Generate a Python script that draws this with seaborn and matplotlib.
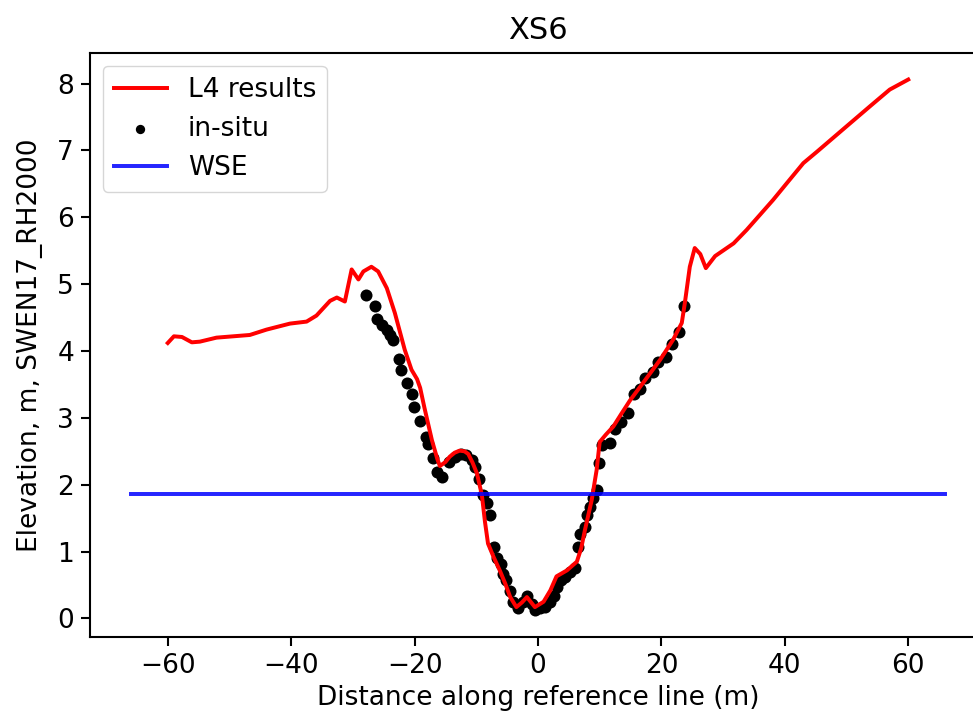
"""
Cross-section XS6: modelled L4 elevation profile vs in-situ survey and WSE.
"""

import matplotlib
matplotlib.use("Agg")
import matplotlib.pyplot as plt
import seaborn as sns

# --- data ---
l4_dist = [-60.0, -59.0, -57.7, -56.1, -54.8, -52.1, -49.4, -46.7, -44.0, -40.2,
           -37.5, -35.9, -33.7, -32.6, -31.3, -30.2, -29.1, -28.3, -27.0, -25.9,
           -24.5, -23.2, -21.6, -20.5, -19.6, -19.1, -18.4, -17.2, -16.3, -15.9,
           -15.0, -14.3, -13.5, -12.7, -11.9, -11.3, -10.6, -9.9, -9.1, -8.6,
           -8.1, -7.2, -6.2, -5.3, -4.5, -3.5, -2.6, -1.8, -0.5, 0.9,
           2.0, 3.0, 4.7, 6.3, 7.0, 7.6, 8.7, 9.5, 10.0, 11.0,
           12.2, 13.5, 14.9, 17.4, 19.8, 21.9, 23.3, 23.8, 24.6, 25.4,
           26.3, 27.2, 28.7, 31.7, 33.8, 36.0, 38.1, 40.5, 43.0, 45.2,
           47.6, 50.0, 53.8, 57.0, 60.0]
l4_elev = [4.12, 4.22, 4.21, 4.13, 4.14, 4.20, 4.22, 4.24, 4.32, 4.41,
           4.44, 4.53, 4.75, 4.80, 4.74, 5.22, 5.07, 5.19, 5.26, 5.19,
           4.94, 4.57, 4.02, 3.72, 3.58, 3.45, 3.15, 2.67, 2.38, 2.28,
           2.34, 2.42, 2.48, 2.51, 2.50, 2.46, 2.33, 2.17, 1.85, 1.45,
           1.12, 0.92, 0.72, 0.52, 0.32, 0.17, 0.24, 0.32, 0.17, 0.25,
           0.42, 0.63, 0.72, 0.85, 1.05, 1.32, 1.77, 2.22, 2.64, 2.75,
           2.87, 3.06, 3.26, 3.57, 3.87, 4.17, 4.42, 4.72, 5.26, 5.54,
           5.45, 5.24, 5.42, 5.61, 5.81, 6.04, 6.26, 6.53, 6.81, 6.98,
           7.17, 7.36, 7.66, 7.91, 8.06]

insitu_dist = [-27.8, -26.4, -26.1, -25.3, -24.5, -24.0, -23.5, -22.5, -22.2, -21.3,
               -20.4, -20.1, -19.1, -18.2, -17.8, -17.0, -16.4, -15.6, -14.5, -13.5,
               -12.4, -11.6, -10.7, -10.2, -9.6, -8.9, -8.3, -7.8, -7.2, -6.7,
               -6.0, -5.6, -5.2, -4.5, -4.0, -3.2, -2.4, -1.8, -1.0, -0.5,
               0.3, 1.1, 1.9, 2.6, 3.0, 3.7, 4.4, 5.2, 6.0, 6.5,
               6.8, 7.6, 8.0, 8.4, 8.9, 9.5, 9.9, 10.3, 11.7, 12.5,
               13.4, 14.6, 15.6, 16.5, 17.3, 18.6, 19.5, 20.7, 21.7, 22.9,
               23.7]
insitu_elev = [4.84, 4.68, 4.48, 4.39, 4.32, 4.24, 4.17, 3.88, 3.72, 3.52,
               3.36, 3.17, 2.95, 2.72, 2.61, 2.40, 2.19, 2.12, 2.34, 2.42,
               2.46, 2.44, 2.37, 2.27, 2.08, 1.85, 1.72, 1.55, 1.07, 0.90,
               0.82, 0.67, 0.57, 0.41, 0.25, 0.16, 0.25, 0.33, 0.21, 0.12,
               0.15, 0.17, 0.25, 0.33, 0.47, 0.57, 0.62, 0.70, 0.75, 1.07,
               1.26, 1.37, 1.55, 1.67, 1.80, 1.92, 2.32, 2.59, 2.63, 2.83,
               2.94, 3.08, 3.36, 3.43, 3.60, 3.68, 3.83, 3.91, 4.11, 4.28,
               4.68]

wse_dist = [-66.0, 66.0]
wse_elev = [1.86, 1.86]

FS = 19
plt.rcParams.update({
    "font.family": ["DejaVu Sans"],
    "font.size": FS,
    "axes.linewidth": 1.5,
    "xtick.major.size": 6.5,
    "ytick.major.size": 6.5,
    "xtick.major.width": 1.5,
    "ytick.major.width": 1.5,
    "xtick.major.pad": 5,
    "ytick.major.pad": 5,
})

fig = plt.figure(figsize=(9.73, 7.2), dpi=100)
# the reference is cropped on the right, so the axes run past the figure edge
ax = fig.add_axes([90 / 973, 1 - 637 / 720, (986 - 90) / 973, (637 - 53) / 720])

sns.lineplot(x=l4_dist, y=l4_elev, color="red", linewidth=2.85,
             sort=False, label="L4 results", ax=ax)
sns.scatterplot(x=insitu_dist, y=insitu_elev, color="black", s=75,
                linewidth=0, label="in-situ", ax=ax)
sns.lineplot(x=wse_dist, y=wse_elev, color="blue", linewidth=2.85,
             alpha=0.85, label="WSE", ax=ax)

ax.set_title("XS6", fontsize=22, pad=10)
ax.set_xlabel("Distance along reference line (m)", fontsize=FS)
ax.set_ylabel("Elevation, m, SWEN17_RH2000", fontsize=FS, labelpad=10)
ax.set_xticks([-60, -40, -20, 0, 20, 40, 60])
ax.set_yticks(range(0, 9))
leg = ax.legend(loc="upper left", fontsize=FS, framealpha=0.8)
leg.legend_handles[1].set_sizes([45])

fig.savefig("out.png", dpi=100)
